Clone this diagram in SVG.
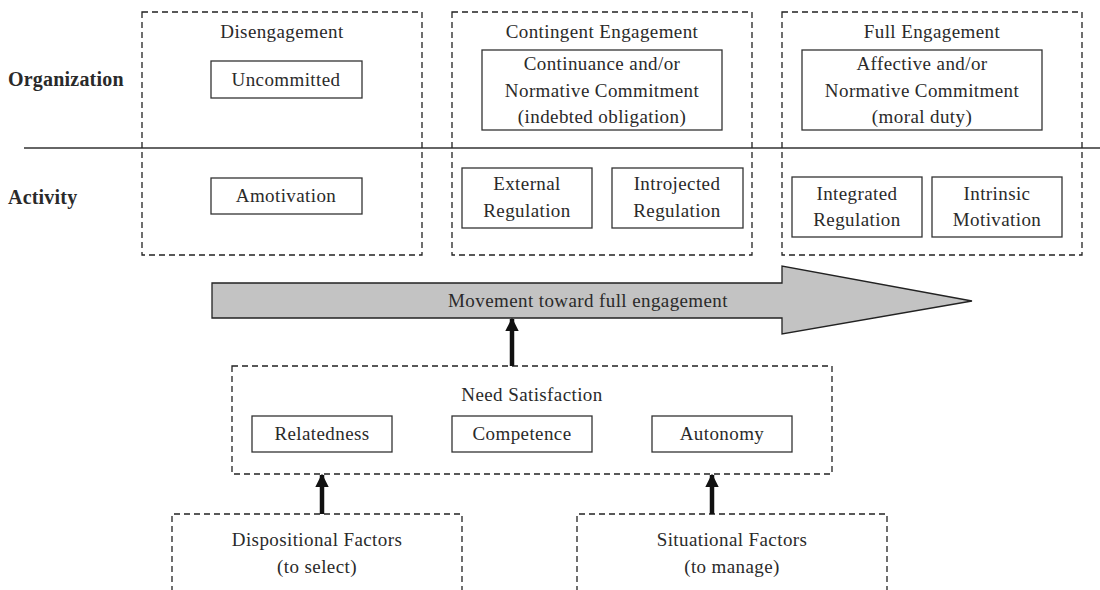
<svg xmlns="http://www.w3.org/2000/svg" width="1100" height="590" viewBox="0 0 1100 590">
<style>
text{font-family:"Liberation Serif","Times New Roman",serif;font-size:19px;fill:#2a2a2a;text-anchor:middle;letter-spacing:0.4px}
.lab{font-weight:bold;text-anchor:start;font-size:20px;letter-spacing:0.2px}
.dash{fill:none;stroke:#222;stroke-width:1.3;stroke-dasharray:6,4}
.box{fill:#fff;stroke:#333;stroke-width:1.3}
.conn{stroke:#111;stroke-width:4.5;fill:none}
</style>
<defs>
<marker id="ah" viewBox="0 0 10 10" refX="9" refY="5" markerWidth="3" markerHeight="3.2" orient="auto" markerUnits="strokeWidth">
<path d="M0,0 L10,5 L0,10 Z" fill="#111"/>
</marker>
</defs>
<rect width="1100" height="590" fill="#fff"/>
<line x1="24" y1="148" x2="1100" y2="148" stroke="#333" stroke-width="1.3"/>
<text class="lab" x="8" y="86">Organization</text>
<text class="lab" x="8" y="204">Activity</text>

<g id="disengagement">
<rect class="dash" x="142" y="12" width="280" height="243"/>
<text x="282" y="38">Disengagement</text>
<rect class="box" x="211" y="61" width="151" height="37"/>
<text x="286" y="86">Uncommitted</text>
<rect class="box" x="211" y="178" width="151" height="36"/>
<text x="286" y="202">Amotivation</text>
</g>

<g id="contingent">
<rect class="dash" x="452" y="12" width="300" height="243"/>
<text x="602" y="38">Contingent Engagement</text>
<rect class="box" x="482" y="50" width="240" height="80"/>
<text x="602" y="70">Continuance and/or</text>
<text x="602" y="97">Normative Commitment</text>
<text x="602" y="123">(indebted obligation)</text>
<rect class="box" x="462" y="168" width="130" height="60"/>
<text x="527" y="190">External</text>
<text x="527" y="217">Regulation</text>
<rect class="box" x="612" y="168" width="131" height="60"/>
<text x="677" y="190">Introjected</text>
<text x="677" y="217">Regulation</text>
</g>

<g id="full">
<rect class="dash" x="782" y="12" width="300" height="243"/>
<text x="932" y="38">Full Engagement</text>
<rect class="box" x="802" y="50" width="240" height="80"/>
<text x="922" y="70">Affective and/or</text>
<text x="922" y="97">Normative Commitment</text>
<text x="922" y="123">(moral duty)</text>
<rect class="box" x="792" y="177" width="130" height="60"/>
<text x="857" y="200">Integrated</text>
<text x="857" y="226">Regulation</text>
<rect class="box" x="932" y="177" width="130" height="60"/>
<text x="997" y="200">Intrinsic</text>
<text x="997" y="226">Motivation</text>
</g>

<g id="movement">
<path d="M212,283 L782,283 L782,266 L972,301 L782,334 L782,318 L212,318 Z" fill="#c3c3c3" stroke="#222" stroke-width="1.3"/>
<text x="588" y="307">Movement toward full engagement</text>
</g>

<g id="need">
<rect class="dash" x="232" y="366" width="600" height="108"/>
<text x="532" y="401">Need Satisfaction</text>
<rect class="box" x="252" y="416" width="140" height="36"/>
<text x="322" y="440">Relatedness</text>
<rect class="box" x="452" y="416" width="140" height="36"/>
<text x="522" y="440">Competence</text>
<rect class="box" x="652" y="416" width="140" height="36"/>
<text x="722" y="440">Autonomy</text>
</g>

<g id="dispositional">
<path class="dash" d="M172,592 L172,514 L462,514 L462,592"/>
<text x="317" y="546">Dispositional Factors</text>
<text x="317" y="573">(to select)</text>
</g>

<g id="situational">
<path class="dash" d="M577,592 L577,514 L887,514 L887,592"/>
<text x="732" y="546">Situational Factors</text>
<text x="732" y="573">(to manage)</text>
</g>

<g id="connectors">
<line class="conn" x1="512" y1="366" x2="512" y2="319" marker-end="url(#ah)"/>
<line class="conn" x1="322" y1="514" x2="322" y2="475" marker-end="url(#ah)"/>
<line class="conn" x1="712" y1="514" x2="712" y2="475" marker-end="url(#ah)"/>
</g>
</svg>
